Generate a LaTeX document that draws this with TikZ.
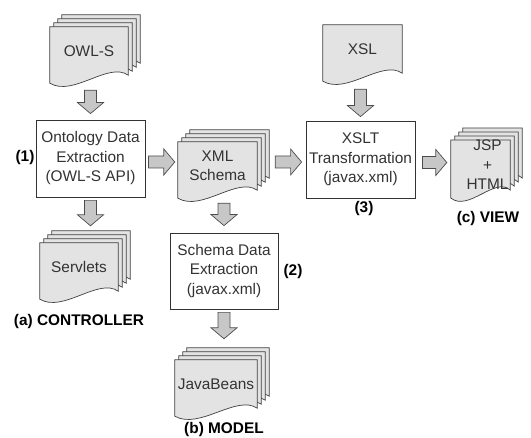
\documentclass[tikz,border=0pt]{standalone}
\usepackage{fontspec}
\setmainfont{Liberation Sans}
\usetikzlibrary{calc,backgrounds}

\tikzset{
  procbox/.style={draw=black!80,line width=.8pt,fill=white,minimum width=109pt,
    minimum height=77pt,inner sep=0pt,align=center,text=black!80},
  doc/.style={minimum width=78pt,minimum height=48pt,inner sep=0pt,align=center,text=black!80},
  page/.style={draw=black!75,line width=.7pt,fill=black!11},
  fat/.style={draw=black!70,line width=.7pt,fill=black!22},
  tag/.style={font=\fontsize{15.4}{19.5}\selectfont\bfseries}
}

% sheets of a document, the ones behind first
\newcommand\docstack[2]{%
  \foreach \k in {#2,...,0}{
    \draw[page] let \p1=(#1.north west), \p2=(#1.south east) in
      (\x1+\k*4pt,\y1+\k*4pt) -- (\x2+\k*4pt,\y1+\k*4pt) -- (\x2+\k*4pt,\y2+\k*4pt)
      .. controls (\x1+0.75*\x2-0.75*\x1+\k*4pt,\y2+14pt+\k*4pt)
      and (\x1+0.3*\x2-0.3*\x1+\k*4pt,\y2-22pt+\k*4pt) .. (\x1+\k*4pt,\y2-8pt+\k*4pt) -- cycle;
  }}
% block arrows
\newcommand\fatdown[2]{%
  \draw[fat] let \p1=(#1), \p2=(#2) in
    (\x1-6pt,\y1) -- (\x1-6pt,\y2+11pt) -- (\x1-13pt,\y2+11pt) -- (\x1,\y2)
    -- (\x1+13pt,\y2+11pt) -- (\x1+6pt,\y2+11pt) -- (\x1+6pt,\y1) -- cycle;}
\newcommand\fatright[2]{%
  \draw[fat] let \p1=(#1), \p2=(#2) in
    (\x1,\y1+6pt) -- (\x2-11pt,\y1+6pt) -- (\x2-11pt,\y1+13pt) -- (\x2,\y1)
    -- (\x2-11pt,\y1-13pt) -- (\x2-11pt,\y1-6pt) -- (\x1,\y1-6pt) -- cycle;}

\begin{document}
\begin{tikzpicture}[x=1pt,y=-1pt,font=\fontsize{15.4}{19.5}\selectfont]
  \useasboundingbox (0,0) rectangle (531,438);

  % documents
  \node[doc] (owl) at (89,51) {OWL-S};
  \node[doc,minimum width=79pt] (xsl) at (362.5,49) {XSL};
  \node[doc,minimum width=79pt] (xml) at (217.5,166) {XML\\Schema};
  \node[doc,minimum width=59pt] (jsp) at (480.5,165) {\hspace*{14pt}JSP\\\hspace*{14pt}+\\\hspace*{14pt}HTML};
  \node[doc] (servlets) at (79,267) {Servlets};
  \node[doc,minimum width=82pt] (beans) at (216,384) {JavaBeans};

  % processing steps
  \node[procbox] (box1) at (90.5,158.5) {Ontology Data\\Extraction\\(OWL-S API)};
  \node[procbox,minimum width=108pt,minimum height=76pt] (box2) at (224,271) {Schema Data\\Extraction\\(javax.xml)};
  \node[procbox] (box3) at (360.5,159.5) {XSLT\\Transformation\\(javax.xml)};

  % labels
  \node[tag] (lab1) at (25,158) {(1)};
  \node[tag] (lab2) at (293,272) {(2)};
  \node[tag] (lab3) at (364,209) {(3)};
  \node[tag] (ctrl) at (79,322) {(a) CONTROLLER};
  \node[tag] (model) at (224,430) {(b) MODEL};
  \node[tag] (view) at (488,219) {(c) VIEW};

  \begin{scope}[on background layer]
    \docstack{owl}{3}
    \docstack{xsl}{0}
    \docstack{xml}{3}
    \docstack{jsp}{3}
    \docstack{servlets}{3}
    \docstack{beans}{3}
  \end{scope}

  \fatdown{$(owl.south -| box1)+(0,15)$}{$(box1.north)+(0,-6)$}
  \fatdown{$(xsl.south -| box3)+(0,16)$}{$(box3.north)+(0,-4)$}
  \fatdown{$(box1.south)+(0,3)$}{$(box1 |- servlets.north)+(0,-17)$}
  \fatdown{$(xml.south -| box2)+(0,13)$}{$(box2.north)+(0,-7)$}
  \fatdown{$(box2.south)+(0,3)$}{$(box2 |- beans.north)+(0,-21)$}
  \fatright{$(box1.east)+(3,3.5)$}{$(xml.west)+(-3,0)$}
  \fatright{$(xml.east |- box3)+(18,2.5)$}{$(box3.west)+(-4,0)$}
  \fatright{$(box3.east)+(7,3)$}{$(jsp.west)+(-4,0)$}
\end{tikzpicture}
\end{document}
